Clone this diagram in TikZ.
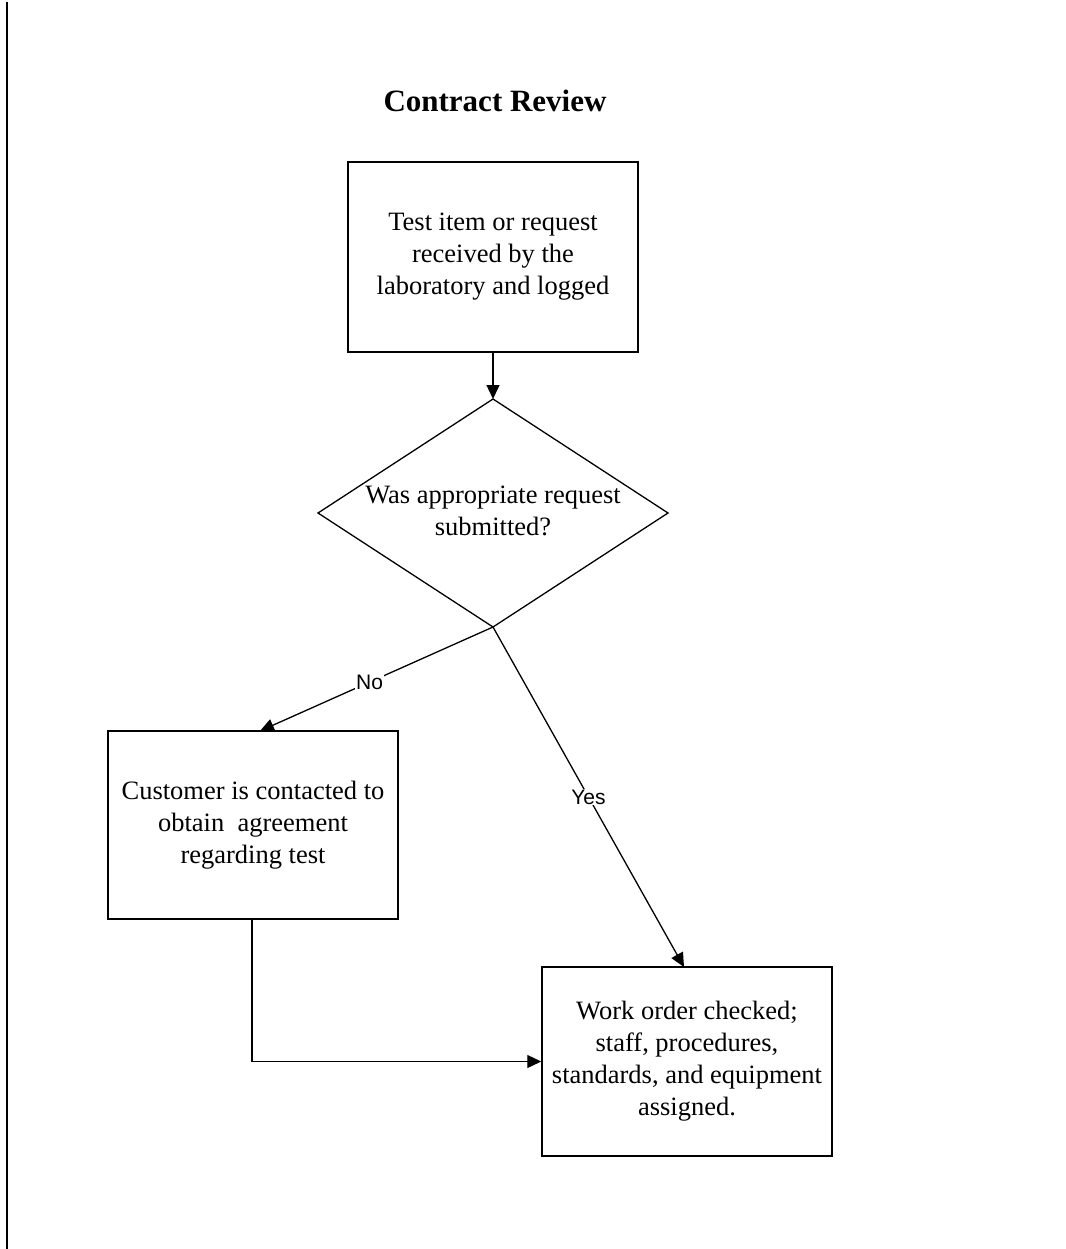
\documentclass[tikz,border=0pt]{standalone}
\usepackage{fontspec}
\setmainfont{Liberation Serif}
\newfontfamily\labfont{Liberation Sans}
\usetikzlibrary{shapes.geometric,arrows.meta}
\begin{document}
\begin{tikzpicture}[x=1pt,y=-1pt,
  box/.style={draw,line width=1.5pt,minimum width=290pt,align=center,inner sep=0pt,
    font=\fontsize{26.5}{32}\selectfont},
  dectext/.style={align=center,inner sep=0pt,font=\fontsize{26.5}{32}\selectfont},
  dec/.style={line width=1.3pt},
  conn/.style={line width=1.3pt,-{Triangle[length=14pt,width=13pt]}},
  lab/.style={fill=white,inner sep=1pt,font=\labfont\fontsize{21}{24}\selectfont}]
\useasboundingbox (0,0) rectangle (1065,1249);
\draw[line width=1.6pt] (7,2) -- (7,1249);
\node[font=\bfseries\fontsize{31}{36}\selectfont] (title) at (495,101) {Contract Review};
\node[box,minimum height=190pt] (recv) at (493,257) {Test item or request\\received by the\\laboratory and logged};
\coordinate (dtop) at (493,399);
\coordinate (dright) at (668,513);
\coordinate (dbottom) at (493,627);
\coordinate (dleft) at (318,513);
\draw[dec] (dtop) -- (dright) -- (dbottom) -- (dleft) -- cycle;
\node[dectext] (dq) at (493,511) {Was appropriate request\\submitted?};
\node[box,minimum height=188pt] (cust) at (253,825) {Customer is contacted to\\obtain\ \ agreement\\regarding test};
\node[box,minimum height=189pt] (work) at (687,1061.5) {Work order checked;\\staff, procedures,\\standards, and equipment\\assigned.};
\coordinate (custtop) at (260,731);
\coordinate (worktop) at (684,967);
\coordinate (bend) at (252,1061.5);
\draw[conn] (recv.south) -- (dtop);
\draw[conn] (dbottom) -- (custtop) node[lab,pos=0.53] {No};
\draw[conn] (dbottom) -- (worktop) node[lab,pos=0.5] {Yes};
\draw[conn] (cust.south -| bend) -- (bend) -- (work.west);
\end{tikzpicture}
\end{document}
